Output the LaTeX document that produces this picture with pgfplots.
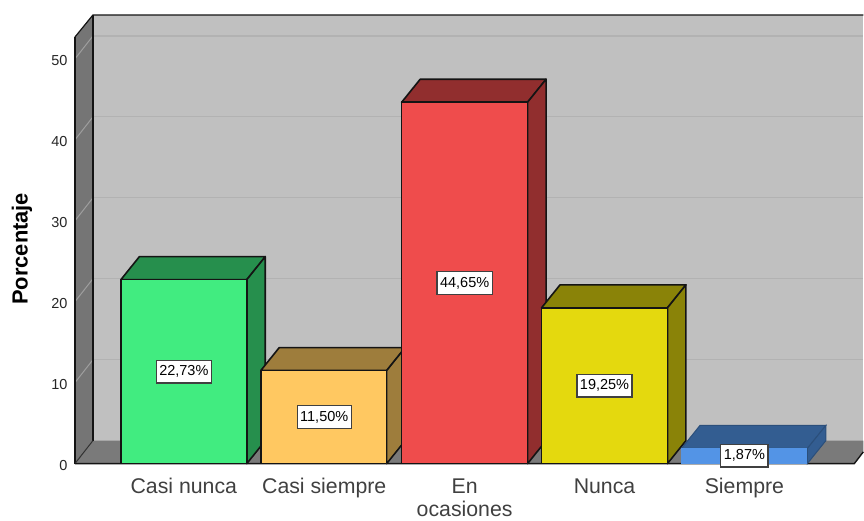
\documentclass[border=0pt]{standalone}
\usepackage{fontspec}
\setmainfont{Liberation Sans}
\usepackage{pgfplots}
\pgfplotsset{compat=1.18}
\definecolor{wall}{RGB}{192,192,192}
\definecolor{sidewall}{RGB}{117,117,117}
\definecolor{floorc}{RGB}{122,122,122}
\definecolor{gridback}{RGB}{178,178,178}
\definecolor{gridside}{RGB}{158,158,158}
\definecolor{edge}{RGB}{20,20,20}
\definecolor{greenF}{RGB}{65,236,128}
\definecolor{greenS}{RGB}{38,143,77}
\definecolor{orangeF}{RGB}{255,200,97}
\definecolor{orangeS}{RGB}{158,125,60}
\definecolor{redF}{RGB}{239,76,76}
\definecolor{redS}{RGB}{145,46,46}
\definecolor{yellowF}{RGB}{228,217,14}
\definecolor{yellowS}{RGB}{138,131,8}
\definecolor{blueF}{RGB}{83,148,230}
\definecolor{blueS}{RGB}{51,93,145}
\pgfplotsset{
  face/.style={draw=edge, line width=1.6pt, line join=round, fill=#1},
  flat/.style={draw=#1!85!black, line width=1pt},
}
\begin{document}
\begin{tikzpicture}
\begin{axis}[
  anchor=origin, at={(0pt,0pt)},
  scale only axis, width=789pt, height=449pt,
  xmin=75, xmax=864, ymin=0, ymax=55.43,
  clip=false,
  axis line style={draw=none}, major tick length=0pt,
  ytick={0,10,20,30,40,50},
  yticklabel style={font=\fontsize{14.5}{16}\selectfont, color=black!85, yshift=-2pt, xshift=-4pt},
  /pgf/number format/assume math mode=true,
  xtick={184,324.5,465,605,745},
  xticklabels={\strut Casi nunca,\strut Casi siempre,\strut En\\ocasiones,\strut Nunca,\strut Siempre},
  xticklabel style={font=\fontsize{21.3}{22}\selectfont, color=black!75, align=center, yshift=-11pt},
  ylabel={\textbf{Porcentaje}},
  every axis y label/.style={at={(rel axis cs:-0.0672,0.4788)}, anchor=center, rotate=90, font=\fontsize{21.9}{23}\selectfont},
]
% walls and floor
\addplot[fill=wall, draw=none] coordinates {(93,2.84) (864,2.84) (864,55.43) (93,55.43)} --cycle;
\addplot[fill=sidewall, draw=none] coordinates {(75,0) (93,2.84) (93,55.43) (75,52.7)} --cycle;
\addplot[fill=floorc, draw=none] coordinates {(75,0) (93,2.84) (864,2.84) (864,1.45) (855,0)} --cycle;
% grid
\addplot[gridback, line width=1.2pt] coordinates {(93,12.84) (864,12.84)};
\addplot[gridback, line width=1.2pt] coordinates {(93,22.84) (864,22.84)};
\addplot[gridback, line width=1.2pt] coordinates {(93,32.84) (864,32.84)};
\addplot[gridback, line width=1.2pt] coordinates {(93,42.84) (864,42.84)};
\addplot[gridback, line width=1.2pt] coordinates {(93,52.84) (864,52.84)};
\addplot[gridside, line width=1pt] coordinates {(75,10) (93,12.84)};
\addplot[gridside, line width=1pt] coordinates {(75,20) (93,22.84)};
\addplot[gridside, line width=1pt] coordinates {(75,30) (93,32.84)};
\addplot[gridside, line width=1pt] coordinates {(75,40) (93,42.84)};
\addplot[gridside, line width=1pt] coordinates {(75,50) (93,52.84)};
% frame
\addplot[edge, line width=1.2pt] coordinates {(75,52.7) (93,55.43) (864,55.43)};
\addplot[edge, line width=1.2pt] coordinates {(75,0) (75,52.7)};
\addplot[edge, line width=1.4pt] coordinates {(93,2.84) (93,55.43)};
\addplot[edge!70!floorc, line width=1pt] coordinates {(75,0) (93,2.84)};
\addplot[edge, line width=1.4pt] coordinates {(75,0) (855,0) (864,1.45)};
% Casi nunca 22.73
\addplot[face=greenS] coordinates {(121,22.73) (139.5,25.57) (265.5,25.57) (247,22.73)} --cycle;
\addplot[face=greenS] coordinates {(247,0) (265.5,2.84) (265.5,25.57) (247,22.73)} --cycle;
\addplot[face=greenF] coordinates {(121,0) (247,0) (247,22.73) (121,22.73)} --cycle;
% Casi siempre 11.50
\addplot[face=orangeS] coordinates {(261,11.5) (279.5,14.34) (405.5,14.34) (387,11.5)} --cycle;
\addplot[face=orangeS] coordinates {(387,0) (405.5,2.84) (405.5,14.34) (387,11.5)} --cycle;
\addplot[face=orangeF] coordinates {(261,0) (387,0) (387,11.5) (261,11.5)} --cycle;
% En ocasiones 44.65
\addplot[face=redS] coordinates {(402,44.65) (420.5,47.49) (546.5,47.49) (528,44.65)} --cycle;
\addplot[face=redS] coordinates {(528,0) (546.5,2.84) (546.5,47.49) (528,44.65)} --cycle;
\addplot[face=redF] coordinates {(402,0) (528,0) (528,44.65) (402,44.65)} --cycle;
% Nunca 19.25
\addplot[face=yellowS] coordinates {(542,19.25) (560.5,22.09) (686.5,22.09) (668,19.25)} --cycle;
\addplot[face=yellowS] coordinates {(668,0) (686.5,2.84) (686.5,22.09) (668,19.25)} --cycle;
\addplot[face=yellowF] coordinates {(542,0) (668,0) (668,19.25) (542,19.25)} --cycle;
% Siempre 1.87
\addplot[fill=blueS, flat=blueS] coordinates {(682,1.87) (700.5,4.71) (826.5,4.71) (808,1.87)} --cycle;
\addplot[fill=blueS, flat=blueS] coordinates {(808,0) (826.5,2.84) (826.5,4.71) (808,1.87)} --cycle;
\addplot[fill=blueF, draw=none] coordinates {(682,0) (808,0) (808,1.87) (682,1.87)} --cycle;
% value labels
\addplot[draw=none, mark=none, point meta=explicit symbolic,
  nodes near coords,
  nodes near coords align={center},
  every node near coord/.append style={font=\fontsize{14.5}{16}\selectfont, fill=white, draw=black!75, line width=1.2pt, inner xsep=3pt, inner ysep=0pt, minimum height=22.5pt, anchor=center, yshift=0pt},
] table[meta=lab] {
x y lab
184 11.36 22,73\%
324.5 5.75 11,50\%
465 22.32 44,65\%
605 9.62 19,25\%
745 0.98 1,87\%
};
\end{axis}
\path[use as bounding box] (-75pt,-52pt) rectangle (789pt,464pt);
\end{tikzpicture}
\end{document}
